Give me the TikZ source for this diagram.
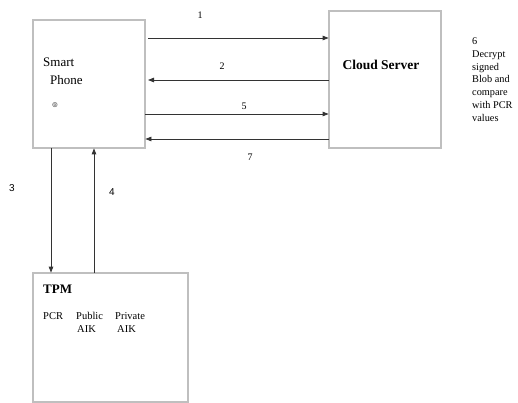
\documentclass[tikz,border=0pt]{standalone}
\usepackage{fontspec}
\setmainfont{Liberation Serif}
\newfontfamily\symfont{DejaVu Sans}
\newfontfamily\arialfont{Liberation Sans}
\usetikzlibrary{arrows.meta}
\begin{document}
\begin{tikzpicture}[x=1pt,y=-1pt,
  box/.style={draw=black!72, double=black!25, double distance=1.1pt, line width=0.8pt, inner sep=0pt},
  conn/.style={draw=black!80, line width=0.8pt, -{Triangle[length=6pt,width=4.5pt]}},
  num/.style={font=\fontsize{10}{12}\selectfont, inner sep=0pt},
  lbl/.style={inner sep=0pt, anchor=west}]
\useasboundingbox (0,0) rectangle (518,403);
\fill[white] (0,0) rectangle (518,403);
% boxes
\node[box, minimum width=112pt, minimum height=128pt] (phone) at (89,84) {};
\node[box, minimum width=112pt, minimum height=137pt] (cloud) at (385,79.5) {};
\node[box, minimum width=155pt, minimum height=129pt] (tpm) at (110.5,337.5) {};
% texts
\node[lbl, font=\fontsize{13}{15}\selectfont] (smart) at (43,62) {Smart};
\node[lbl, font=\fontsize{13}{15}\selectfont] (phonetxt) at (50,80) {Phone};
\node[inner sep=0pt, font=\symfont\fontsize{7.5}{8}\selectfont, text=black!70] (sym) at (55,105) {⊚};
\node[inner sep=0pt, font=\bfseries\fontsize{13.5}{15}\selectfont] (cloudtxt) at (381,65) {Cloud Server};
\node[anchor=north west, inner sep=0pt, align=left, font=\fontsize{10.3}{12.8}\selectfont] (six) at (472,37.5) {6\\Decrypt\\signed\\Blob and\\compare\\with PCR\\values};
\node[lbl, font=\bfseries\fontsize{13}{15}\selectfont] (tpmtxt) at (43,289) {TPM};
\node[lbl, font=\fontsize{10.5}{12}\selectfont] (pcr) at (43,316) {PCR};
\node[lbl, font=\fontsize{10.5}{12}\selectfont] (pub) at (76,316) {Public};
\node[lbl, font=\fontsize{10.5}{12}\selectfont] (priv) at (115,316) {Private};
\node[lbl, font=\fontsize{10.5}{12}\selectfont] (aik1) at (77,329) {AIK};
\node[lbl, font=\fontsize{10.5}{12}\selectfont] (aik2) at (117,329) {AIK};
% connector end points
\coordinate (a1s) at (148,38);
\coordinate (a2e) at (148,80);
\coordinate (y5) at (0,114);
\coordinate (y7) at (0,139);
\coordinate (x3) at (51,0);
\coordinate (x4) at (94,0);
% connectors
\draw[conn] (a1s) -- (cloud.west |- a1s);
\draw[conn] (cloud.west |- a2e) -- (a2e);
\draw[conn] (phone.east |- y5) -- (cloud.west |- y5);
\draw[conn] (cloud.west |- y7) -- (phone.east |- y7);
\draw[conn] (phone.south -| x3) -- (tpm.north -| x3);
\draw[conn] (tpm.north -| x4) -- (phone.south -| x4);
% numbers
\node[num] (n1) at (200,15) {1};
\node[num] (n2) at (222,66) {2};
\node[num] (n5) at (244,106) {5};
\node[num] (n7) at (250,157) {7};
\node[num, font=\arialfont\fontsize{10}{12}\selectfont] (n3) at (12,188) {3};
\node[num, font=\arialfont\fontsize{10}{12}\selectfont] (n4) at (112,192) {4};
\end{tikzpicture}
\end{document}
